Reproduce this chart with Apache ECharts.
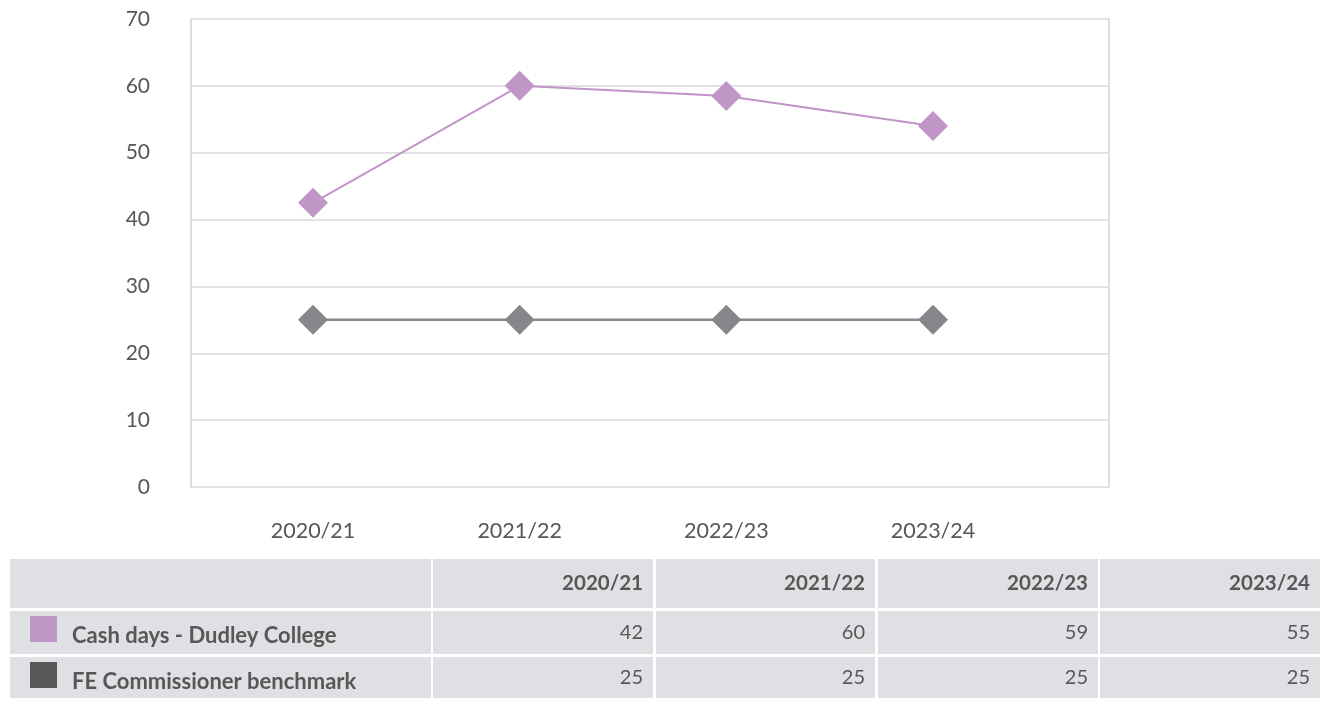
<!DOCTYPE html>
<html>
<head>
<meta charset="utf-8">
<script src="https://cdn.jsdelivr.net/npm/echarts@6/dist/echarts.min.js"></script>
<style>
html,body{margin:0;padding:0;background:#fff;}
#chart{width:1330px;height:704px;}
</style>
</head>
<body>
<div id="chart"></div>
<script>
// ---- data ----
const categories = ['2020/21', '2021/22', '2022/23', '2023/24'];
const cashDays = [42.5, 60, 58.5, 54];          // plotted values
const benchmark = [25, 25, 25, 25];
const cashDaysTable = ['42', '60', '59', '55']; // values printed in the table
const benchmarkTable = ['25', '25', '25', '25'];
const seriesNames = ['Cash days - Dudley College', 'FE Commissioner benchmark'];
const yTicks = { min: 0, max: 70, interval: 10 };

// ---- style ----
const FONT = 'Lato, "Noto Sans", sans-serif';
const TXT = '#575757';
const PURPLE = '#bf96c5';
const GREY = '#85878c';
const CELL = '#dfe0e3';

const chart = echarts.init(document.getElementById('chart'), null, { renderer: 'canvas' });

// table graphics
const colX = [[10, 431], [433, 653], [656, 875], [878, 1098], [1100, 1320]];
const rowY = [[559, 608], [611, 654], [657, 698]];
const graphics = [];
rowY.forEach((r) => {
  colX.forEach((c) => {
    graphics.push({ type: 'rect', shape: { x: c[0], y: r[0], width: c[1] - c[0], height: r[1] - r[0] }, style: { fill: CELL }, silent: true });
  });
});
// header
categories.forEach((cat, i) => {
  graphics.push({ type: 'text', x: colX[i + 1][1] - 10, y: (rowY[0][0] + rowY[0][1]) / 2,
    style: { text: cat, fill: TXT, font: 'bold 20.5px ' + FONT, textAlign: 'right', textVerticalAlign: 'middle' } });
});
const rowsData = [[seriesNames[0], cashDaysTable, PURPLE], [seriesNames[1], benchmarkTable, '#575757']];
rowsData.forEach((rd, k) => {
  const r = rowY[k + 1];
  graphics.push({ type: 'rect', shape: { x: 30, y: r[0] + 5, width: 27, height: 26 }, style: { fill: rd[2] } });
  graphics.push({ type: 'text', x: 72, y: r[0] + 25,
    style: { text: rd[0], fill: TXT, font: 'bold 22px ' + FONT, textAlign: 'left', textVerticalAlign: 'middle' } });
  rd[1].forEach((v, i) => {
    graphics.push({ type: 'text', x: colX[i + 1][1] - 10, y: (r[0] + r[1]) / 2,
      style: { text: v, fill: TXT, font: '20px ' + FONT, textAlign: 'right', textVerticalAlign: 'middle' } });
  });
});

const option = {
  animation: false,
  backgroundColor: '#ffffff',
  textStyle: { fontFamily: FONT },
  grid: [
    { left: 191, top: 19, width: 918, height: 468, show: true, borderColor: '#dcdde1', borderWidth: 2, containLabel: false },
    { left: 313, top: 19, width: 620, height: 468, containLabel: false }
  ],
  xAxis: [
    { gridIndex: 0, type: 'category', data: categories, show: false },
    { gridIndex: 1, type: 'category', data: categories, boundaryGap: false,
      axisLine: { show: false }, axisTick: { show: false }, splitLine: { show: false },
      axisLabel: { color: TXT, fontSize: 21.5, margin: 33, fontFamily: FONT } }
  ],
  yAxis: [
    { gridIndex: 0, type: 'value', min: yTicks.min, max: yTicks.max, interval: yTicks.interval,
      axisLine: { show: false }, axisTick: { show: false },
      splitLine: { show: true, lineStyle: { color: '#e2e2e6', width: 2 } },
      axisLabel: { color: TXT, fontSize: 21, margin: 41, fontFamily: FONT } },
    { gridIndex: 1, type: 'value', min: yTicks.min, max: yTicks.max, interval: yTicks.interval, show: false,
      splitLine: { show: false } }
  ],
  series: [
    { name: seriesNames[0], type: 'line', xAxisIndex: 1, yAxisIndex: 1, data: cashDays,
      symbol: 'diamond', symbolSize: 30, itemStyle: { color: PURPLE }, lineStyle: { color: PURPLE, width: 2 } },
    { name: seriesNames[1], type: 'line', xAxisIndex: 1, yAxisIndex: 1, data: benchmark,
      symbol: 'diamond', symbolSize: 30, itemStyle: { color: GREY }, lineStyle: { color: GREY, width: 2.5 } }
  ],
  graphic: graphics
};
chart.setOption(option);
</script>
</body>
</html>
